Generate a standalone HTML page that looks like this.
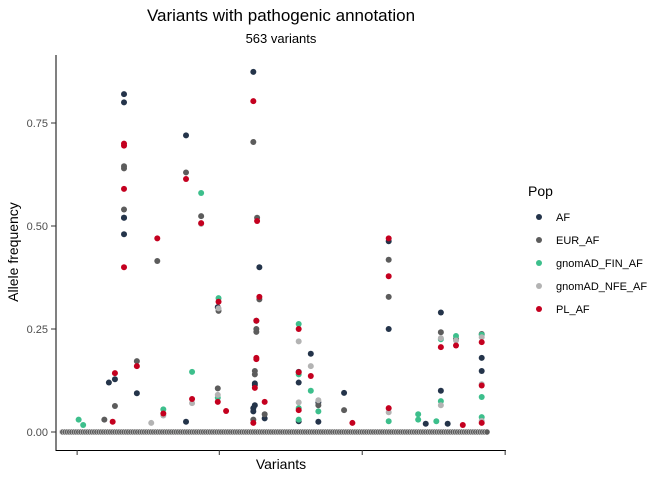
<!DOCTYPE html>
<html><head><meta charset="utf-8"><style>
body{margin:0;background:#fff;font-family:"Liberation Sans",sans-serif}
</style></head><body>
<svg id="chart" width="672" height="480" xmlns="http://www.w3.org/2000/svg" font-family="Liberation Sans, sans-serif">
<rect width="672" height="480" fill="#fff"/>
<text x="281" y="21" font-size="17" text-anchor="middle" fill="#000">Variants with pathogenic annotation</text>
<text x="281" y="43" font-size="13" text-anchor="middle" fill="#000">563 variants</text>
<text transform="translate(18,252) rotate(-90)" font-size="14" text-anchor="middle">Allele frequency</text>
<text x="281" y="469" font-size="14" text-anchor="middle">Variants</text>
<g id="marks"></g>
<line x1="56" y1="55" x2="56" y2="451" stroke="#000" stroke-width="1"/>
<line x1="55.5" y1="450.5" x2="506" y2="450.5" stroke="#000" stroke-width="1"/>
<g id="axes"></g>
<text x="528" y="196" font-size="14">Pop</text>
<g id="legend"></g>
</svg>
<script>
const pops = ["AF","EUR_AF","gnomAD_FIN_AF","gnomAD_NFE_AF","PL_AF"];
const colors = ["#24344a","#5c5c5c","#3dbf8c","#b3b3b3","#c4001f"];
const nVariants = 563;
const yTicks = [0,0.25,0.5,0.75];
const yTickLabels = ["0.00","0.25","0.50","0.75"];
const xTicks = [20,208,397,586];
const afIdx = [82,82,82,82,82,62,70,99,164,206,253,261,257,255,255,255,253,253,268,164,313,313,313,329,339,373,432,432,481,501,501,510,555,555,339];
const afVal = [0.82,0.80,0.52,0.48,0.52,0.12,0.128,0.094,0.72,0.303,0.874,0.40,0.27,0.118,0.114,0.065,0.058,0.05,0.033,0.025,0.146,0.12,0.026,0.19,0.025,0.095,0.463,0.25,0.02,0.29,0.10,0.02,0.18,0.148,0.072];
const eurIdx = [82,82,82,70,99,126,164,184,207,206,253,258,261,257,257,255,255,253,268,56,339,373,432,432,501,521,555];
const eurVal = [0.645,0.64,0.54,0.063,0.172,0.415,0.63,0.524,0.294,0.106,0.704,0.52,0.322,0.25,0.243,0.148,0.14,0.03,0.043,0.03,0.065,0.053,0.418,0.328,0.242,0.226,0.238];
const finIdx = [22,28,134,172,184,207,206,313,313,313,313,329,339,432,471,471,495,501,501,521,555,555,555];
const finVal = [0.03,0.017,0.055,0.146,0.58,0.325,0.083,0.262,0.14,0.058,0.03,0.10,0.05,0.026,0.043,0.03,0.026,0.225,0.075,0.233,0.236,0.085,0.036];
const nfeIdx = [118,134,172,184,207,206,313,313,329,339,432,501,501,521,555,555,555];
const nfeVal = [0.022,0.04,0.07,0.505,0.30,0.09,0.22,0.072,0.16,0.077,0.048,0.228,0.065,0.222,0.23,0.116,0.027];
const plIdx = [82,82,82,82,67,70,99,126,164,172,184,207,206,217,253,258,261,257,257,257,255,253,268,134,313,313,313,329,384,432,432,432,530,501,521,555,555,555];
const plVal = [0.70,0.695,0.59,0.40,0.025,0.143,0.16,0.47,0.614,0.08,0.507,0.316,0.073,0.051,0.803,0.512,0.328,0.27,0.18,0.177,0.107,0.022,0.073,0.045,0.25,0.145,0.053,0.136,0.022,0.47,0.378,0.058,0.017,0.206,0.21,0.218,0.113,0.022];
const idxs=[afIdx,eurIdx,finIdx,nfeIdx,plIdx], vals=[afVal,eurVal,finVal,nfeVal,plVal];
const X = i => 62 + i*(425/562);
const Y = v => 432 - v*412;
const NS="http://www.w3.org/2000/svg";
const marks=document.getElementById('marks');
function dot(g,x,y,c,name,extra){const d=document.createElementNS(NS,'circle');d.setAttribute('cx',x);d.setAttribute('cy',y);d.setAttribute('r',3);d.setAttribute('fill',c);
if(extra){d.setAttribute('stroke','#ffffff');d.setAttribute('stroke-width','0.6');d.setAttribute('stroke-opacity','0.7');}


g.appendChild(d);}
// baseline zero-frequency points for all variants (drawn PL, AF, FIN, NFE, EUR so grey ends on top)
const baseOrder=[4,0,2,3,1];
baseOrder.forEach((p,o)=>{for(let i=o%3;i<nVariants;i+=3){dot(marks,X(i),Y(0),colors[p],'baseline-point',true);}});
for(let p=0;p<pops.length;p++){for(let k=0;k<idxs[p].length;k++){dot(marks,X(idxs[p][k]),Y(vals[p][k]),colors[p],'point-'+pops[p]);}}
const axes=document.getElementById('axes');
yTicks.forEach((t,k)=>{const y=Y(t);
const l=document.createElementNS(NS,'line');l.setAttribute('x1',51);l.setAttribute('x2',56);l.setAttribute('y1',y);l.setAttribute('y2',y);l.setAttribute('stroke','#333');


axes.appendChild(l);
const tx=document.createElementNS(NS,'text');tx.setAttribute('x',48);tx.setAttribute('y',y+4);tx.setAttribute('font-size','11');tx.setAttribute('text-anchor','end');tx.setAttribute('fill','#4d4d4d');tx.textContent=yTickLabels[k];


axes.appendChild(tx);});
xTicks.forEach(t=>{const x=X(t);const l=document.createElementNS(NS,'line');l.setAttribute('x1',x);l.setAttribute('x2',x);l.setAttribute('y1',450);l.setAttribute('y2',455);l.setAttribute('stroke','#333');


axes.appendChild(l);});
const lg=document.getElementById('legend');
pops.forEach((p,k)=>{const y=217+k*23;
const g=document.createElementNS(NS,'g');


lg.appendChild(g);
dot(g,539,y,colors[k],'legend-key');
const tx=document.createElementNS(NS,'text');tx.setAttribute('x',556);tx.setAttribute('y',y+4);tx.setAttribute('font-size','11');tx.textContent=p;


g.appendChild(tx);});
</script>
</body></html>
